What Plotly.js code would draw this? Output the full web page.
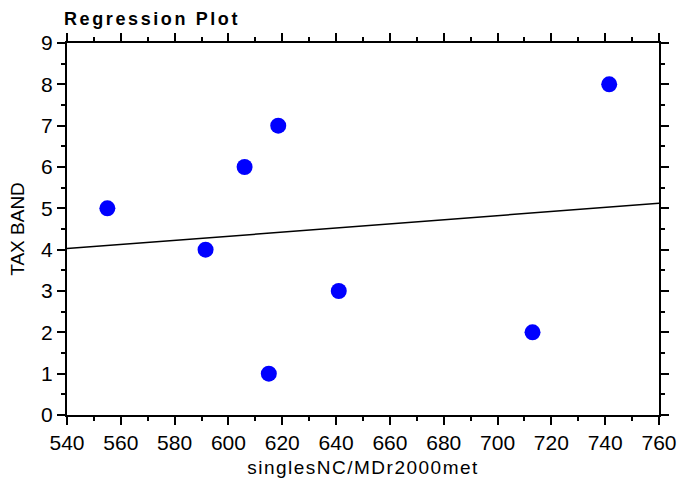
<!DOCTYPE html>
<html>
<head>
<meta charset="utf-8">
<script src="https://cdn.plot.ly/plotly-3.0.1.min.js"></script>
<style>
  html, body { margin: 0; padding: 0; background: #fff; }
  #chart { width: 681px; height: 487px; }
  /* spaced-out lettering for the chart title and x-axis title */
  #chart .gtitle { letter-spacing: 2.6px; }
  #chart .xtitle { letter-spacing: 1.5px; }
</style>
</head>
<body>
<div id="chart"></div>
<script>
// Observations: x = singlesNC/MDr2000met, y = TAX BAND
const xValues = [555, 591.5, 606, 615, 618.5, 641, 713, 741.5];
const yValues = [5, 4, 6, 1, 7, 3, 2, 8];
const xRange = [540, 760];
const yRange = [0, 9];

// Ordinary least-squares fit across the x range
function fitLine(xs, ys) {
  const n = xs.length;
  const mx = xs.reduce((a, b) => a + b, 0) / n;
  const my = ys.reduce((a, b) => a + b, 0) / n;
  let sxy = 0, sxx = 0;
  for (let i = 0; i < n; i++) {
    sxy += (xs[i] - mx) * (ys[i] - my);
    sxx += (xs[i] - mx) * (xs[i] - mx);
  }
  const slope = sxy / sxx;
  return x => my + slope * (x - mx);
}
const f = fitLine(xValues, yValues);

const font = 'Liberation Sans, Arial, sans-serif';
const axisCommon = {
  showgrid: false,
  zeroline: false,
  showline: true,
  linecolor: '#000',
  linewidth: 2,
  mirror: 'ticks',
  ticks: 'outside',
  ticklen: 8,
  tickwidth: 2,
  tickcolor: '#000',
  tickfont: { family: font, size: 21, color: '#000' },
  automargin: false,
  fixedrange: true
};

const traces = [
  {
    x: xRange,
    y: xRange.map(f),
    mode: 'lines',
    line: { color: '#000', width: 1.5 },
    hoverinfo: 'skip'
  },
  {
    x: xValues,
    y: yValues,
    mode: 'markers',
    marker: { color: '#0000ff', size: 16, symbol: 'circle' }
  }
];

const layout = {
  width: 681,
  height: 487,
  margin: { l: 67, r: 22, t: 43, b: 72 },
  paper_bgcolor: '#fff',
  plot_bgcolor: '#fff',
  showlegend: false,
  title: {
    text: '<b>Regression Plot</b>',
    font: { family: font, size: 18, color: '#000' },
    x: 64 / 681, xanchor: 'left',
    y: 1 - 19 / 487, yanchor: 'middle'
  },
  xaxis: Object.assign({}, axisCommon, {
    range: xRange,
    dtick: 20,
    tick0: 540,
    minor: { dtick: 10, ticklen: 4, tickwidth: 2, tickcolor: '#000', ticks: 'outside' },
    title: { text: 'singlesNC/MDr2000met', font: { family: font, size: 19, color: '#000' }, standoff: 7 }
  }),
  yaxis: Object.assign({}, axisCommon, {
    range: yRange,
    dtick: 1,
    tick0: 0,
    minor: { dtick: 0.5, ticklen: 4, tickwidth: 2, tickcolor: '#000', ticks: 'outside' },
    title: { text: 'TAX BAND', font: { family: font, size: 19, color: '#000' }, standoff: 11 }
  })
};

Plotly.newPlot('chart', traces, layout, { displayModeBar: false, staticPlot: true });
</script>
</body>
</html>
